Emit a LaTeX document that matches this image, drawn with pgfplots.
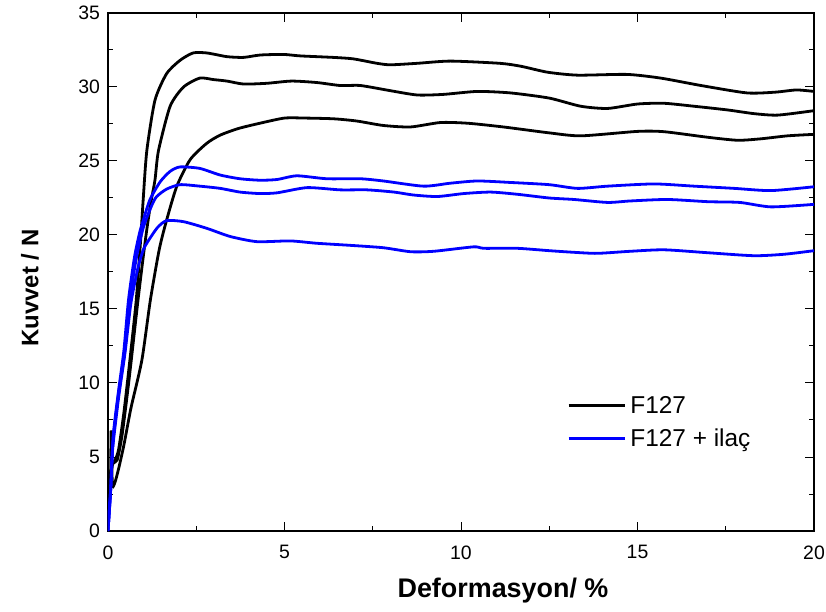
\documentclass[border=0pt]{standalone}
\usepackage{fontspec}
\setmainfont{Liberation Sans}
\usepackage{pgfplots}
\pgfplotsset{compat=1.18}
\definecolor{pblue}{RGB}{0,0,255}
\newcommand{\legfont}{\fontsize{24.5}{27}\selectfont}
\begin{document}
\begin{tikzpicture}
\useasboundingbox (-108bp,-81bp) rectangle (718bp,531bp);
\begin{axis}[at={(0,0)}, anchor=south west, scale only axis,
  width=706bp, height=518bp,
  xmin=0, xmax=20, ymin=0, ymax=35,
  xtick={0,5,...,20}, ytick={0,5,...,35}, minor tick num=1,
  tick align=inside, major tick length=9bp, minor tick length=5bp,
  axis line style={line width=1.2bp},
  every tick/.style={line width=1bp, black},
  /pgf/number format/assume math mode=true,
  ticklabel style={font=\fontsize{19.5}{22}\selectfont},
  xticklabel style={yshift=-11bp},
  yticklabel style={xshift=-4.5bp},
  xlabel={Deformasyon/ \%}, ylabel={Kuvvet / N},
  xlabel style={at={(axis description cs:0.5595,-0.1158)}, anchor=center, font=\bfseries\fontsize{27}{30}\selectfont},
  ylabel style={at={(axis description cs:-0.1105,0.469)}, anchor=center, font=\bfseries\fontsize{24}{28}\selectfont},
  legend style={at={(axis cs:13.0,9.13)}, anchor=north west, draw=none, fill=none,
    nodes={inner xsep=4.5bp, inner ysep=0bp},
    inner sep=0pt, row sep=14.5bp, cells={anchor=west}},
  legend image code/.code={\draw[#1] (0bp,0bp) -- (56bp,0bp);},
]
% black A (lowest black)
\addplot[black, line width=2.8bp, smooth, tension=0.4] coordinates {
(0.07,2.8)(0.09,6.8)(0.11,4.2)(0.13,3.0)(0.2,3.3)(0.3,4.2)(0.45,5.8)(0.65,8.3)(0.96,11.55)(1.2,15.6)(1.45,19)(1.66,21.0)(1.95,23.3)(2.33,25.1)(2.8,26.2)(3.18,26.75)(3.7,27.2)(4.3,27.55)(5.0,27.9)(5.6,27.9)(6.4,27.85)(7.05,27.7)(7.8,27.4)(8.57,27.3)(9.42,27.6)(10.2,27.55)(11.2,27.3)(12.5,26.9)(13.4,26.7)(15.0,27.0)(15.75,26.98)(17.0,26.6)(17.84,26.4)(18.5,26.5)(19.25,26.7)(20,26.8)
};
\addlegendentry{\legfont F127}
% black B (top)
\addplot[black, line width=2.8bp, smooth, tension=0.4, forget plot] coordinates {
(0.06,3.5)(0.12,4.5)(0.2,4.8)(0.3,5.5)(0.45,8)(0.62,11.55)(0.8,15.6)(0.92,19.5)(1.0,22.5)(1.1,25.7)(1.33,29.1)(1.66,30.9)(2.04,31.8)(2.41,32.3)(2.8,32.3)(3.37,32.05)(3.84,32.0)(4.31,32.16)(4.97,32.2)(5.45,32.1)(6.38,32.0)(6.95,31.9)(7.62,31.6)(8.0,31.5)(8.76,31.6)(9.7,31.75)(11.1,31.6)(11.7,31.4)(12.45,31.0)(13.3,30.8)(14.7,30.85)(15.66,30.6)(16.8,30.1)(18.1,29.6)(18.9,29.65)(19.5,29.8)(20,29.7)
};
% black C (middle)
\addplot[black, line width=2.8bp, smooth, tension=0.4, forget plot] coordinates {
(0.07,4)(0.15,4.6)(0.26,4.8)(0.4,6.5)(0.6,10.3)(0.85,15.6)(1.05,19.5)(1.2,22)(1.33,23.7)(1.43,25.7)(1.76,28.7)(2.14,30.0)(2.6,30.6)(2.99,30.5)(3.37,30.4)(3.84,30.2)(4.5,30.25)(5.2,30.4)(5.92,30.3)(6.58,30.1)(7.15,30.1)(8.0,29.75)(8.76,29.46)(9.5,29.5)(10.46,29.7)(11.4,29.6)(12.5,29.25)(13.39,28.7)(14.15,28.55)(15.0,28.85)(15.75,28.9)(16.6,28.7)(17.55,28.45)(18.3,28.2)(18.97,28.1)(20,28.4)
};
% blue top
\addplot[pblue, line width=2.8bp, smooth, tension=0.4] coordinates {
(0,0)(0.08,3)(0.15,6.5)(0.3,9.5)(0.45,12.2)(0.58,15.6)(0.75,18.5)(0.9,20.2)(1.0,21.0)(1.19,22.4)(1.48,23.6)(1.76,24.3)(2.04,24.6)(2.6,24.5)(3.18,24.05)(3.74,23.8)(4.31,23.7)(4.79,23.75)(5.35,24.0)(6.2,23.8)(7.15,23.8)(7.8,23.65)(8.94,23.3)(9.7,23.5)(10.46,23.65)(11.4,23.55)(12.5,23.4)(13.3,23.15)(14.15,23.3)(15.47,23.45)(16.6,23.3)(17.74,23.15)(18.78,23.0)(20,23.26)
};
\addlegendentry{\legfont F127 + ilaç}
% blue middle
\addplot[pblue, line width=2.8bp, smooth, tension=0.4, forget plot] coordinates {
(0,0)(0.08,3)(0.14,6.0)(0.3,9.3)(0.47,12)(0.62,15.6)(0.8,18.4)(1.0,20.5)(1.24,22.0)(1.38,22.6)(1.66,23.1)(2.04,23.4)(2.6,23.3)(3.18,23.15)(3.74,22.9)(4.31,22.8)(4.79,22.85)(5.64,23.2)(6.58,23.05)(7.34,23.05)(8.1,22.9)(8.66,22.7)(9.33,22.6)(10.08,22.8)(10.84,22.9)(11.6,22.75)(12.5,22.5)(13.2,22.4)(14.15,22.2)(14.8,22.3)(15.85,22.4)(17.0,22.25)(17.9,22.2)(18.78,21.9)(20,22.07)
};
% blue bottom
\addplot[pblue, line width=2.8bp, smooth, tension=0.4, forget plot] coordinates {
(0,0)(0.07,2.5)(0.13,5.5)(0.3,9)(0.48,12)(0.65,15.4)(0.85,17.8)(1.0,19.0)(1.14,19.6)(1.4,20.5)(1.66,20.97)(2.14,20.9)(2.8,20.45)(3.46,19.9)(4.22,19.55)(5.16,19.6)(5.92,19.44)(6.87,19.3)(7.8,19.14)(8.57,18.87)(9.23,18.9)(10.36,19.2)(10.65,19.1)(11.6,19.1)(12.5,18.94)(13.2,18.83)(13.86,18.76)(14.8,18.9)(15.75,19.0)(17.0,18.8)(18.3,18.6)(19.16,18.7)(20,18.94)
};
\end{axis}
\end{tikzpicture}
\end{document}
